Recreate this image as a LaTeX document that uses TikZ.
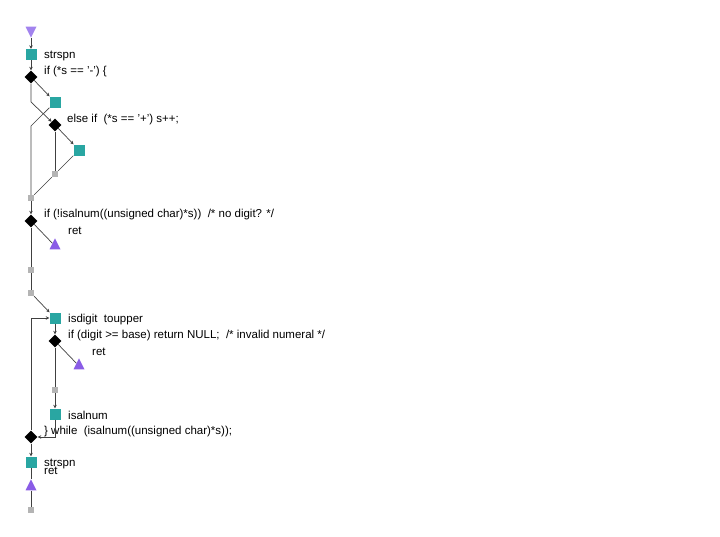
\documentclass[tikz,border=0pt]{standalone}
\usepackage{fontspec}
\setmainfont{Liberation Sans}
\usetikzlibrary{shapes.geometric,arrows.meta}
\definecolor{teal1}{HTML}{29A6A2}
\definecolor{purp}{HTML}{8A5CE6}
\definecolor{purpl}{HTML}{A283EE}
\definecolor{greyb}{HTML}{B4B4B4}
\definecolor{linec}{HTML}{404040}
\begin{document}
\begin{tikzpicture}[x=1pt,y=-1pt,
  sq/.style={rectangle,fill=teal1,minimum size=11pt,inner sep=0pt},
  gq/.style={rectangle,fill=greyb,minimum size=6pt,inner sep=0pt},
  dm/.style={diamond,fill=black,minimum width=13pt,minimum height=13pt,inner sep=0pt},
  tri/.style={isosceles triangle,isosceles triangle stretches,shape border rotate=90,fill=purp,minimum width=11pt,minimum height=11pt,inner sep=0pt},
  trd/.style={isosceles triangle,isosceles triangle stretches,shape border rotate=-90,fill=purpl,minimum width=11pt,minimum height=11pt,inner sep=0pt},
  lab/.style={anchor=west,inner sep=0pt,font=\fontsize{11.5pt}{13pt}\selectfont},
  ln/.style={draw=linec,line width=0.7pt},
  ar/.style={ln,-{Stealth[length=3.5pt,width=3.5pt]}}]
\useasboundingbox (0,0) rectangle (720,536);
\node[trd] (t0) at (31,30) {};
\node[sq] (s0) at (31,54.5) {};
\node[dm] (d1) at (31,77) {};
\node[sq] (s1) at (55,102) {};
\coordinate (c1) at (31,102);
\coordinate (c2) at (31,126);
\node[dm] (d2) at (55,125) {};
\node[sq] (s2) at (79,150) {};
\node[gq] (g1) at (55,174) {};
\node[gq] (g2) at (31,198) {};
\node[dm] (d3) at (31,221) {};
\node[tri] (t1) at (55,246) {};
\node[gq] (g3) at (31,270) {};
\node[gq] (g4) at (31,293) {};
\node[sq] (s3) at (55,318) {};
\node[dm] (d4) at (55,341) {};
\node[tri] (t2) at (79,366) {};
\node[gq] (g5) at (55,390) {};
\node[sq] (s4) at (55,414) {};
\node[dm] (d5) at (31,437) {};
\coordinate (c3) at (55,437);
\coordinate (c4) at (31,318);
\node[sq] (s5) at (31,462) {};
\node[tri] (t3) at (31,487) {};
\node[gq] (g6) at (31,510) {};
% labels
\node[lab] (l1) at (44,56) {strspn};
\node[lab] (l2) at (44,72) {if (*s == '-') \{};
\node[lab] (l3) at (67,120) {else if \ (*s == '+') s++;};
\node[lab] (l4) at (44,215) {if (!isalnum((unsigned char)*s)) \ /* no digit? */};
\node[lab] (l5) at (68,231) {ret};
\node[lab] (l6) at (68,320) {isdigit \ toupper};
\node[lab] (l7) at (68,336) {if (digit >= base) return NULL; \ /* invalid numeral */};
\node[lab] (l8) at (92,351.5) {ret};
\node[lab] (l9) at (68,415.5) {isalnum};
\node[lab] (l10) at (44,432) {\} while \ (isalnum((unsigned char)*s));};
\node[lab] (l11) at (44,463.5) {strspn};
\node[lab] (l12) at (44,470.5) {ret};
% connectors
\draw[ar] (t0) -- (s0);
\draw[ar] (s0) -- (d1);
\draw[ar] (d1) -- (s1);
\draw[ar] (d1) -- (c1) -- (d2);
\draw[ln] (s1) -- (c2) -- (g2);
\draw[ar] (d2) -- (s2);
\draw[ln] (d2) -- (g1);
\draw[ln] (s2) -- (g1);
\draw[ln] (g1) -- (g2);
\draw[ar] (g2) -- (d3);
\draw[ln] (d3) -- (t1);
\draw[ln] (d3) -- (g3);
\draw[ln] (g3) -- (g4);
\draw[ar] (g4) -- (s3);
\draw[ar] (s3) -- (d4);
\draw[ln] (d4) -- (t2);
\draw[ln] (d4) -- (g5);
\draw[ar] (g5) -- (s4);
\draw[ar] (s4) -- (c3) -- (d5);
\draw[ar] (d5) -- (c4) -- (s3);
\draw[ar] (d5) -- (s5);
\draw[ln] (s5) -- (t3);
\draw[ln] (t3) -- (g6);
\end{tikzpicture}
\end{document}
